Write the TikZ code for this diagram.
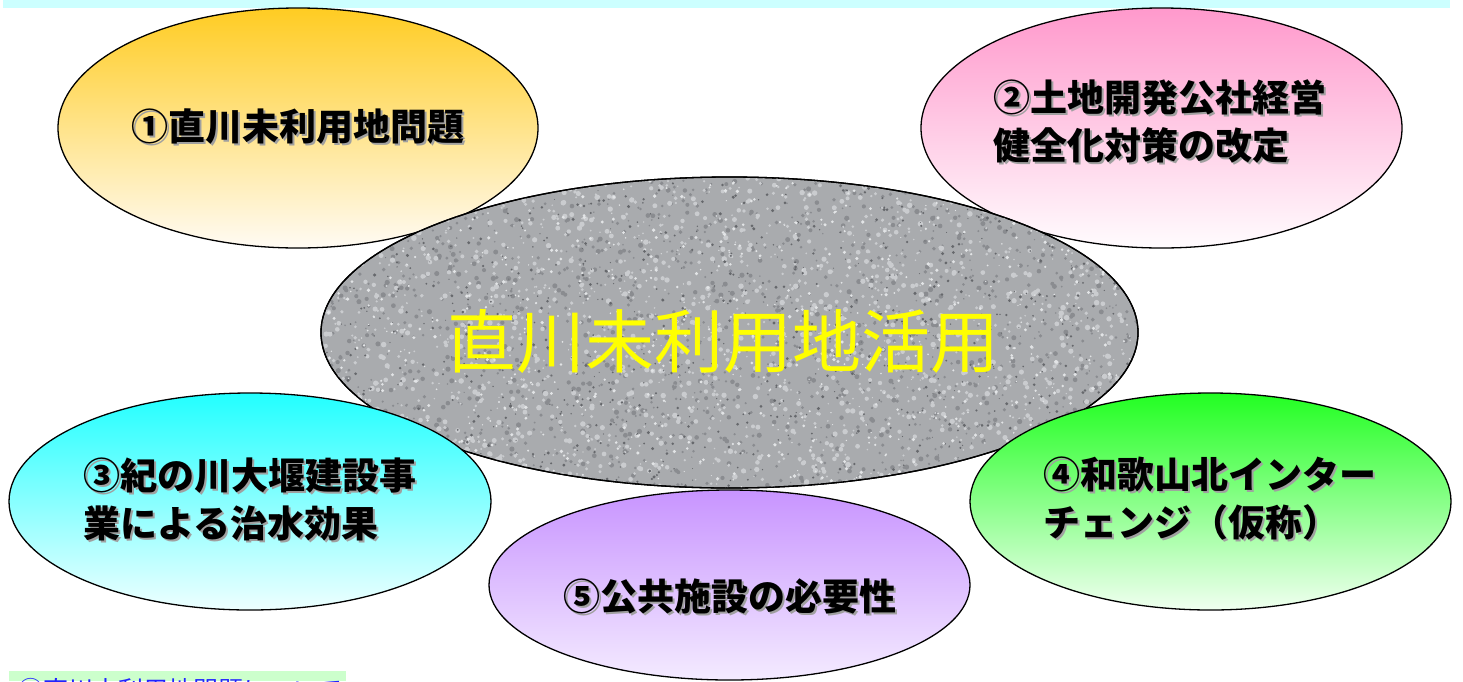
\documentclass[tikz,border=0pt]{standalone}
\usepackage{fontspec}
\setmainfont{Noto Sans CJK JP}
\usetikzlibrary{calc,shapes.geometric}
\definecolor{topbar}{HTML}{CCFFFF}
\definecolor{orgtop}{HTML}{FFCC22}
\definecolor{orgbot}{HTML}{FFFBF4}
\definecolor{pnktop}{HTML}{FF99CC}
\definecolor{pnkbot}{HTML}{FFFCFE}
\definecolor{cyntop}{HTML}{22FFFF}
\definecolor{cynbot}{HTML}{EEFFFF}
\definecolor{grntop}{HTML}{22FF22}
\definecolor{grnbot}{HTML}{F0FFF0}
\definecolor{purtop}{HTML}{C894FF}
\definecolor{purbot}{HTML}{F4EBFF}
\definecolor{texbase}{HTML}{A9ABAE}
\definecolor{texmid}{HTML}{8A8C90}
\definecolor{texdark}{HTML}{66686C}
\definecolor{texlight}{HTML}{CACCCF}
\definecolor{texwhite}{HTML}{E2E4E6}
\definecolor{shadowgray}{HTML}{A0A0A0}
\definecolor{notebox}{HTML}{CCFFCC}
\definecolor{noteblue}{HTML}{2222FF}
\definecolor{ctext}{HTML}{FFFF00}
\newcommand{\shlabel}[4]{%
  \node[lbl, text=shadowgray, anchor=#3] (#1s) at ($#2+(2,2)$) {#4};
  \node[lbl, anchor=#3] (#1) at #2 {#4};}
\begin{document}
\begin{tikzpicture}[x=1pt,y=-1pt,
  bub/.style={ellipse, draw=black, line width=1.3pt, inner sep=0pt},
  lbl/.style={font=\fontsize{37}{48}\selectfont\bfseries, align=left, inner sep=0pt},
]
\useasboundingbox (0,0) rectangle (1463,681);
\fill[topbar] (3,0) rectangle (1450,8) node[coordinate] (barend) {};

% upper bubbles (behind centre)
\node[bub, minimum width=480, minimum height=240, top color=orgtop, bottom color=orgbot] (e1) at (298,128) {};
\node[bub, minimum width=481, minimum height=240, top color=pnktop, bottom color=pnkbot] (e2) at (1161.5,128) {};

% centre bubble with mottled texture
\node[bub, minimum width=817, minimum height=311, fill=texbase] (c) at (729.5,332.5) {};
\begin{scope}
  \clip (c.center) ellipse [x radius=408.5, y radius=155.5];
  \pgfmathsetseed{7}
  \foreach \i in {1,...,1500} {
    \fill[texmid] ({729.5+410*rand},{332.5+157*rand}) circle ({0.8+1.8*rnd});
  }
  \foreach \i in {1,...,1800} {
    \fill[texlight] ({729.5+410*rand},{332.5+157*rand}) circle ({0.8+2*rnd});
  }
  \foreach \i in {1,...,900} {
    \fill[texdark] ({729.5+410*rand},{332.5+157*rand}) circle ({0.5+1.2*rnd});
  }
  \foreach \i in {1,...,900} {
    \fill[texwhite] ({729.5+410*rand},{332.5+157*rand}) circle ({0.5+1.4*rnd});
  }
\end{scope}
\draw[line width=1.3pt] (c.center) ellipse [x radius=408.5, y radius=155.5];
\node[font=\fontsize{69}{80}\selectfont, text=ctext, inner sep=0pt] (ct) at (723,341) {直川未利用地活用};

% lower bubbles
\node[bub, minimum width=482, minimum height=217, top color=cyntop, bottom color=cynbot] (e3) at (250,501.5) {};
\node[bub, minimum width=481, minimum height=217, top color=grntop, bottom color=grnbot] (e4) at (1210.5,501.5) {};
\node[bub, minimum width=481, minimum height=190, top color=purtop, bottom color=purbot] (e5) at (729.5,585) {};

% labels
\shlabel{t1}{(298,127)}{center}{①直川未利用地問題}
\shlabel{t2}{(993,121)}{west}{②土地開発公社経営\\健全化対策の改定}
\shlabel{t3}{(83,499)}{west}{③紀の川大堰建設事\\業による治水効果}
\shlabel{t4}{(1043,499)}{west}{④和歌山北インター\\チェンジ（仮称）}
\shlabel{t5}{(730,596)}{center}{⑤公共施設の必要性}

% note strip at the bottom (cut off by the page edge, as in the reference)
\fill[notebox] (9,671) rectangle (346,681) node[coordinate] (nb) {};
\node[anchor=north west, inner sep=0pt, font=\fontsize{25}{30}\selectfont, text=noteblue] (note) at (18,678) {①直川未利用地問題について};
\end{tikzpicture}
\end{document}
